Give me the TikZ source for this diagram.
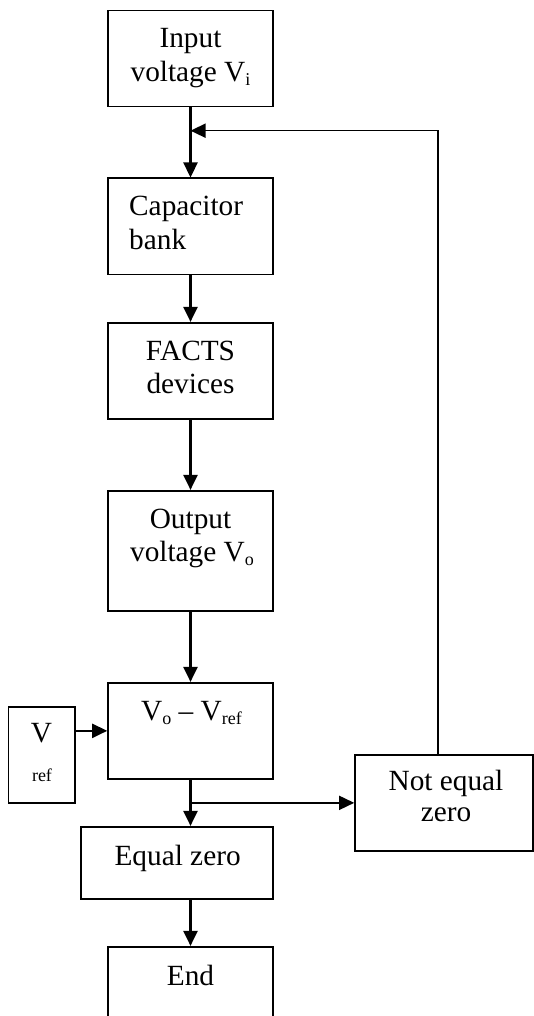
\documentclass[tikz,border=0pt]{standalone}
\usepackage{fontspec}
\setmainfont{Liberation Serif}
\usetikzlibrary{arrows.meta}
\newcommand{\lsub}[1]{\raisebox{-4pt}{\fontsize{18}{18}\selectfont #1}}
\begin{document}
\begin{tikzpicture}[x=1pt,y=-1pt,
  box/.style={draw,line width=1.6pt,inner sep=0pt,rectangle},
  txt/.style={font=\fontsize{29.3}{34}\selectfont,inner sep=0pt,anchor=base},
  small/.style={font=\fontsize{18}{18}\selectfont,inner sep=0pt,anchor=base},
  arr/.style={line width=2.3pt,-{Triangle[length=15pt,width=14pt]}},
  arrthin/.style={line width=1.6pt,-{Triangle[length=15pt,width=14pt]}}]
\useasboundingbox (0,0) rectangle (534,1016);
% boxes
\node[box,minimum width=165pt,minimum height=96.2pt] (in) at (190.5,58.6) {};
\node[box,minimum width=165pt,minimum height=96pt] (cap) at (190.5,226.3) {};
\node[box,minimum width=165pt,minimum height=96pt] (facts) at (190.5,370.7) {};
\node[box,minimum width=165pt,minimum height=120pt] (out) at (190.5,550.7) {};
\node[box,minimum width=165pt,minimum height=96.3pt] (diff) at (190.5,730.85) {};
\node[box,minimum width=66.5pt,minimum height=96.3pt] (vref) at (41.75,754.85) {};
\node[box,minimum width=178pt,minimum height=95.7pt] (neq) at (444,802.85) {};
\node[box,minimum width=192pt,minimum height=72pt] (eq) at (177,862.7) {};
\node[box,minimum width=165pt,minimum height=90pt] (end) at (190.5,991.7) {};
% texts
\node[txt] (inA) at (190.5,47.7) {Input};
\node[txt] (inB) at (190.5,81.7) {voltage V\lsub{i}};
\node[txt,anchor=base west] (capA) at (129,215) {Capacitor};
\node[txt,anchor=base west] (capB) at (129,249.3) {bank};
\node[txt] (fA) at (190.5,360) {FACTS};
\node[txt] (fB) at (190.5,393.3) {devices};
\node[txt] (oA) at (190.5,528.3) {Output};
\node[txt] (oB) at (192,561.7) {voltage V\lsub{o}};
\node[txt] (dA) at (191.5,720) {V\lsub{o} – V\lsub{ref}};
\node[txt] (vA) at (41.5,742.7) {V};
\node[small] (vB) at (42,781.7) {ref};
\node[txt] (nA) at (446,790) {Not equal};
\node[txt] (nB) at (446,821.7) {zero};
\node[txt] (eA) at (177.6,865) {Equal zero};
\node[txt] (endA) at (190.5,985) {End};
% connectors
\draw[arr] (in.south) -- (cap.north);
\draw[arr] (cap.south) -- (facts.north);
\draw[arr] (facts.south) -- (out.north);
\draw[arr] (out.south) -- (diff.north);
\draw[arr] (vref.east |- diff.west) -- (diff.west);
\draw[arr] (diff.south) -- (diff.south |- eq.north);
\draw[arr] (eq.south -| end.north) -- (end.north);
\coordinate (br) at (diff.south |- neq.west);
\draw[arrthin] (br) -- (neq.west);
\coordinate (fb) at (438,130.7);
\draw[arrthin] (neq.north -| fb) -- (fb) -- (in.south |- fb);
\end{tikzpicture}
\end{document}
